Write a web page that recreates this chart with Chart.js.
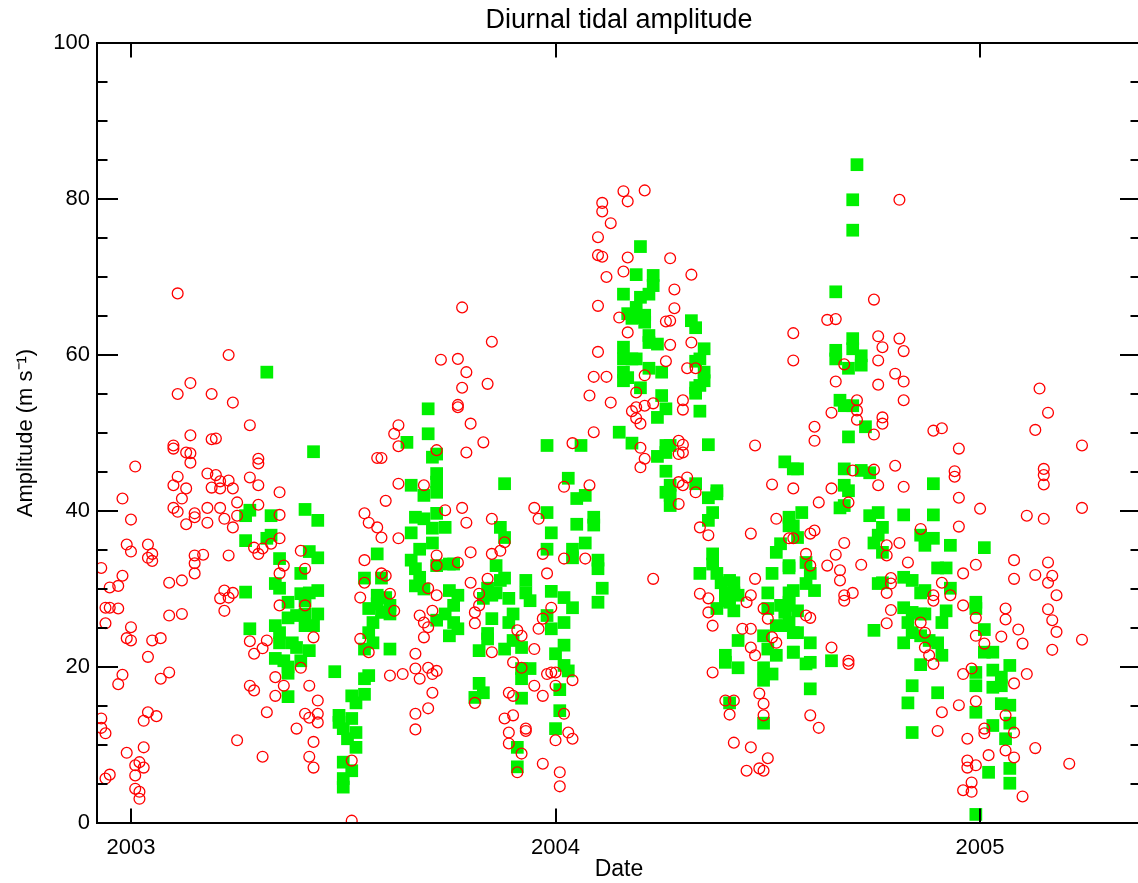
<!DOCTYPE html>
<html>
<head>
<meta charset="utf-8">
<title>Diurnal tidal amplitude</title>
<script src="https://cdn.jsdelivr.net/npm/chart.js@4.4.0/dist/chart.umd.min.js"></script>
<style>
html, body { margin: 0; padding: 0; background: #fff; overflow: hidden; }
#wrap { width: 1150px; height: 883px; }
</style>
</head>
<body>
<div id="wrap"><canvas id="tideChart" width="1150" height="883"></canvas></div>
<script>
// axis ranges (decimal years / m s-1)
var dateMin = 2002.92;
var dateMax = 2005.379;
var yearTicks = [2003, 2004, 2005];
var ampTicks = [0, 20, 40, 60, 80, 100];
var ampMinorStep = 5;

// red open circles: [decimal year, amplitude]
var circleEarly = [
  [2002.98,41.6],[2003.00,38.9],[2002.99,35.7],[2003.00,34.8],[2003.04,35.7],[2003.05,34.5],[2003.04,34.0],[2003.05,33.6],
  [2002.93,32.7],[2002.98,31.7],[2002.95,30.2],[2002.97,30.4],[2002.94,27.6],[2002.95,27.6],[2002.97,27.5],[2002.94,25.6],
  [2003.00,25.1],[2002.99,23.7],[2003.00,23.4],[2003.05,23.4],[2003.07,23.7],[2003.04,21.3],[2002.98,19.0],[2002.97,17.8],
  [2003.07,18.5],[2003.09,19.3],[2002.93,13.4],[2002.93,12.2],[2002.94,11.5],[2003.04,14.2],[2003.03,13.1],[2003.06,13.7],
  [2002.99,9.0],[2003.03,9.7],[2003.01,7.4],[2003.02,7.8],[2003.03,7.1],[2003.01,6.1],[2002.94,5.7],[2002.95,6.2],
  [2003.01,4.4],[2003.02,4.0],[2003.02,3.1]
];
var circleSpring03 = [
  [2003.11,67.9],[2003.23,60.0],[2003.14,56.4],[2003.11,55.0],[2003.19,55.0],[2003.24,53.9],[2003.28,51.0],[2003.14,49.7],
  [2003.19,49.2],[2003.20,49.3],[2003.10,48.4],[2003.10,48.0],[2003.13,47.5],[2003.14,47.4],[2003.14,46.2],[2003.01,45.7],
  [2003.30,46.7],[2003.30,46.1],[2003.11,44.4],[2003.18,44.8],[2003.20,44.6],[2003.21,43.8],[2003.23,43.9],[2003.28,44.3],
  [2003.10,43.3],[2003.13,42.9],[2003.19,43.0],[2003.21,42.9],[2003.24,42.9],[2003.30,43.3],[2003.35,42.4],
  [2003.12,41.6],[2003.10,40.4],[2003.11,39.9],[2003.15,39.7],[2003.15,39.2],[2003.18,38.5],[2003.18,40.4],[2003.21,40.4],
  [2003.22,39.0],[2003.24,37.9],[2003.25,41.1],[2003.13,38.3],[2003.30,40.8],[2003.35,39.5],[2003.25,39.4],[2003.17,34.4],
  [2003.23,34.3],[2003.15,34.3],[2003.15,33.3],[2003.15,32.0],[2003.09,30.8],[2003.12,31.1],[2003.22,29.8],[2003.24,29.5],
  [2003.21,28.8],[2003.23,28.9],[2003.22,27.2],[2003.09,26.6],[2003.12,26.8],[2003.29,35.3],[2003.31,35.2],[2003.33,35.8],
  [2003.35,36.5],[2003.30,34.5],[2003.40,34.9],[2003.41,32.6],[2003.35,32.0],[2003.36,33.0],[2003.35,27.9],[2003.41,27.9],
  [2003.28,23.3],[2003.32,23.4],[2003.29,21.7],[2003.31,22.4],[2003.43,23.8],[2003.40,19.9],[2003.34,18.7],[2003.28,17.6],
  [2003.29,17.0],[2003.34,16.3],[2003.36,17.6],[2003.42,17.6],[2003.44,15.7],[2003.32,14.2],[2003.41,14.0],[2003.42,13.5],
  [2003.44,14.0],[2003.44,12.9],[2003.39,12.1],[2003.25,10.6],[2003.43,10.4],[2003.31,8.5],[2003.42,8.5],[2003.43,7.1],
  [2003.52,0.3],[2003.52,8.0]
];
var circleAutumn03 = [
  [2003.63,51.0],[2003.62,49.9],[2003.63,48.3],[2003.58,46.8],[2003.59,46.8],[2003.63,43.5],[2003.69,43.3],[2003.73,59.4],
  [2003.72,47.8],[2003.55,39.7],[2003.56,38.5],[2003.58,37.9],[2003.59,36.6],[2003.63,36.5],[2003.60,41.3],[2003.55,33.7],
  [2003.59,32.0],[2003.60,31.7],[2003.55,30.8],[2003.54,28.9],[2003.61,29.4],[2003.62,27.2],[2003.54,23.6],[2003.56,21.9],
  [2003.61,18.9],[2003.64,19.1],[2003.71,27.2],[2003.68,26.6],[2003.69,25.7],[2003.70,25.1],[2003.69,23.8],[2003.67,21.7],
  [2003.67,19.8],[2003.70,19.9],[2003.72,19.5],[2003.68,18.5],[2003.71,19.1],[2003.71,16.7],[2003.67,14.0],[2003.70,14.7],
  [2003.67,12.0],[2003.72,34.3],[2003.72,33.0],[2003.70,30.1],[2003.72,29.2],
  [2003.78,66.1],[2003.85,61.7],[2003.77,59.5],[2003.79,57.8],[2003.78,55.8],[2003.84,56.3],[2003.77,53.6],[2003.77,53.3],
  [2003.80,51.2],[2003.83,48.8],[2003.79,47.5],[2003.78,40.4],[2003.79,38.5],[2003.74,40.1],[2003.85,39.0],[2003.80,34.7],
  [2003.85,34.5],[2003.87,34.9],[2003.77,33.4],[2003.80,30.8],[2003.82,29.4],[2003.81,27.0],[2003.82,27.9],[2003.81,25.6],
  [2003.84,31.3],[2003.85,21.9],[2003.91,24.7],[2003.92,24.0],[2003.90,20.6],[2003.92,19.9],[2003.95,22.3],[2003.96,39.0],
  [2003.95,40.4],[2003.88,36.0],[2003.97,34.5],[2003.98,32.0],[2003.99,27.6],[2003.96,24.9],[2003.97,26.2],[2003.99,19.3],
  [2003.98,19.1],[2004.00,19.3],[2004.04,18.3],[2003.95,17.6],[2003.97,16.3],[2004.00,17.6],[2003.89,16.7],[2003.90,16.3],
  [2003.81,15.4],[2003.88,13.4],[2003.90,13.8],[2003.89,11.6],[2003.93,11.8],[2003.93,12.1],[2003.89,10.2],[2003.92,8.9],
  [2003.91,6.5],[2003.97,7.6],[2004.01,6.5],[2004.01,4.7],[2004.00,10.6],[2004.03,11.6],[2004.04,10.8],[2004.02,14.0],
  [2004.07,33.9],[2004.02,33.9]
];
var circleYear04 = [
  [2004.16,81.0],[2004.21,81.1],[2004.17,79.7],[2004.11,79.5],[2004.11,78.4],[2004.13,76.9],[2004.10,75.1],[2004.10,72.8],
  [2004.11,72.6],[2004.17,72.5],[2004.27,72.4],[2004.12,70.0],[2004.16,70.7],[2004.32,70.3],[2004.10,66.3],[2004.28,68.4],
  [2004.28,66.0],[2004.15,64.8],[2004.17,62.9],[2004.26,64.3],[2004.27,64.4],[2004.10,60.4],[2004.27,61.3],[2004.32,61.6],
  [2004.56,62.8],[2004.56,59.3],[2004.26,59.2],[2004.09,57.2],[2004.12,57.2],[2004.31,58.3],[2004.33,58.3],[2004.21,57.4],
  [2004.08,54.8],[2004.13,53.9],[2004.19,55.2],[2004.30,54.2],[2004.18,52.8],[2004.19,53.3],[2004.21,53.5],[2004.23,53.8],
  [2004.19,51.9],[2004.20,51.2],[2004.30,53.0],[2004.09,50.1],[2004.04,48.7],[2004.20,48.1],[2004.21,46.7],[2004.20,45.6],
  [2004.29,49.0],[2004.30,48.5],[2004.29,47.3],[2004.30,47.5],[2004.47,48.4],[2004.31,44.3],[2004.29,43.7],[2004.51,43.4],
  [2004.08,43.3],[2004.02,43.1],
  [2004.23,31.3],[2004.30,43.3],[2004.33,42.4],[2004.29,40.9],[2004.34,37.9],[2004.36,36.9],[2004.34,29.4],[2004.36,28.8],
  [2004.36,27.0],[2004.37,25.3],[2004.37,19.3],[2004.40,15.7],[2004.42,15.7],[2004.41,13.9],[2004.42,10.3],[2004.46,9.7],
  [2004.45,6.7],[2004.48,7.0],[2004.50,8.3],[2004.49,6.7],[2004.46,37.1],[2004.52,39.0],[2004.55,36.5],[2004.47,31.3],
  [2004.46,29.2],[2004.45,28.3],[2004.44,24.9],[2004.46,24.9],[2004.46,22.5],[2004.47,21.5],[2004.49,27.5],[2004.50,26.2],
  [2004.51,23.8],[2004.52,23.1],[2004.48,16.6],[2004.49,15.3],[2004.49,13.8]
];
var circleLate04 = [
  [2004.81,79.9],[2004.75,67.1],[2004.64,64.5],[2004.66,64.6],[2004.76,62.4],[2004.81,62.1],[2004.77,61.0],[2004.82,60.5],
  [2004.76,59.3],[2004.68,58.8],[2004.66,56.6],[2004.76,56.2],[2004.80,57.6],[2004.82,56.6],[2004.82,54.2],[2004.71,54.2],
  [2004.65,52.6],[2004.71,52.9],[2004.71,51.7],[2004.77,52.0],[2004.77,51.2],[2004.61,50.8],[2004.61,49.0],[2004.75,49.8],
  [2004.89,50.3],[2004.91,50.6],[2004.95,48.0],[2005.14,55.7],[2005.16,52.6],[2005.13,50.4],[2005.24,48.4],[2004.70,45.2],
  [2004.75,45.3],[2004.80,45.8],[2004.94,45.1],[2004.94,44.4],[2005.15,45.4],[2005.15,44.6],[2005.15,43.4],[2004.65,42.9],
  [2004.76,43.3],[2004.82,43.1],[2004.56,42.9],
  [2004.62,41.1],[2004.69,41.1],[2004.95,41.7],[2005.00,40.3],[2004.95,38.0],[2004.86,37.7],[2005.11,39.4],[2005.15,39.0],
  [2005.24,40.4],[2004.60,37.1],[2004.61,37.5],[2004.56,36.5],[2004.68,35.9],[2004.78,35.6],[2004.81,35.9],[2004.78,34.3],
  [2004.83,33.4],[2004.72,33.1],[2004.66,34.4],[2004.64,33.0],[2004.59,34.5],[2004.60,33.0],[2004.67,32.4],[2004.67,31.1],
  [2004.68,29.2],[2004.68,28.5],[2004.70,29.5],[2004.79,31.4],[2004.79,30.7],[2004.78,29.5],[2004.91,30.8],[2004.93,29.2],
  [2004.96,32.0],[2004.99,33.1],[2004.89,29.2],[2004.89,28.5],[2004.96,27.9],[2004.99,26.3],[2005.08,33.7],[2005.08,31.3],
  [2005.13,31.8],[2005.16,33.4],[2005.17,31.7],[2005.16,30.8],[2005.18,29.2],[2004.79,27.3],[2004.78,25.6],[2004.59,26.6],
  [2004.60,26.3],[2004.86,25.7],[2004.87,24.4],[2004.87,22.5],[2004.88,21.5],[2004.89,20.4],[2004.65,22.5],[2004.69,20.8],
  [2004.69,20.4],[2004.99,24.0],[2005.01,23.0],[2005.05,23.9],[2005.06,27.5],[2005.06,26.1],[2005.09,24.8],[2005.10,23.0],
  [2005.16,27.4],[2005.17,26.0],[2005.18,24.5],[2005.17,22.2],[2005.24,23.5],[2004.96,19.1],[2004.98,19.8],[2005.11,19.1],
  [2005.08,17.9],[2004.95,15.1],[2004.99,15.6],[2004.91,14.2],[2004.90,11.8],[2004.97,10.8],[2005.01,12.1],[2005.01,11.5],
  [2005.06,13.8],[2005.08,11.6],[2005.08,8.4],[2005.06,9.3],[2005.02,8.7],[2005.13,9.6],[2005.10,3.4],[2005.21,7.6],
  [2004.97,8.0],[2004.97,7.1],[2004.99,7.4],[2004.98,5.2],[2004.96,4.2],[2004.98,4.0],[2004.60,13.8],[2004.62,12.2]
];

// green filled squares: [decimal year, amplitude]
var squareYear03 = [
  [2003.32,57.8],[2003.43,47.6],[2003.28,40.1],[2003.27,39.4],[2003.33,39.4],[2003.41,40.2],[2003.44,38.8],[2003.27,36.2],
  [2003.32,36.5],[2003.33,36.9],[2003.35,33.9],[2003.42,34.8],[2003.44,34.0],[2003.40,32.0],[2003.27,29.6],[2003.34,30.7],
  [2003.35,30.1],[2003.37,28.3],[2003.40,29.4],[2003.42,29.5],[2003.44,29.8],[2003.41,28.5],[2003.37,26.3],[2003.39,26.6],
  [2003.41,26.8],[2003.44,26.8],[2003.41,25.3],[2003.43,25.3],[2003.28,24.9],[2003.34,25.3],[2003.35,24.4],[2003.35,23.1],
  [2003.38,23.1],[2003.39,22.5],[2003.42,22.1],[2003.34,21.1],[2003.36,20.8],[2003.37,20.0],[2003.40,20.8],[2003.37,19.2],
  [2003.37,16.2],
  [2003.48,19.4],[2003.56,18.9],[2003.55,18.5],[2003.55,16.5],[2003.52,16.3],[2003.53,15.4],[2003.49,13.8],[2003.49,12.9],
  [2003.50,12.1],[2003.52,13.4],[2003.51,10.8],[2003.53,11.6],[2003.53,9.7],[2003.50,7.8],[2003.52,6.7],[2003.50,5.7],
  [2003.50,4.6],[2003.58,34.5],[2003.55,31.4],[2003.59,31.4],[2003.58,29.2],[2003.60,28.9],[2003.58,28.1],[2003.61,27.9],
  [2003.56,27.5],[2003.59,27.0],[2003.61,26.8],[2003.57,25.7],[2003.56,24.4],[2003.57,23.1],[2003.55,22.3],[2003.61,22.3],
  [2003.70,53.1],[2003.70,49.9],[2003.65,48.8],[2003.71,46.9],[2003.72,47.3],[2003.72,44.8],[2003.72,43.7],[2003.66,43.3],
  [2003.67,39.2],[2003.69,39.0],[2003.72,39.7],[2003.71,37.8],[2003.71,35.9],[2003.66,37.2],[2003.72,42.4],[2003.69,42.0],
  [2003.68,35.1],[2003.66,33.7],[2003.67,32.6],[2003.68,31.5],[2003.67,30.4],[2003.69,30.0]
];
var squareWinter03 = [
  [2003.87,37.9],[2003.88,36.6],[2003.74,37.9],[2003.86,33.0],[2003.75,33.2],[2003.72,33.0],[2003.76,33.2],[2003.87,31.1],
  [2003.88,31.4],[2003.84,30.1],[2003.85,29.2],[2003.86,29.5],[2003.89,28.8],[2003.83,28.8],[2003.75,29.8],[2003.77,29.2],
  [2003.76,27.9],[2003.74,26.8],[2003.76,25.7],[2003.72,26.0],[2003.77,24.9],[2003.75,24.0],[2003.93,31.1],[2003.93,29.5],
  [2003.94,28.5],[2003.99,29.7],[2004.02,28.9],[2004.04,27.6],[2004.11,30.1],[2004.10,28.3],[2003.90,26.8],[2003.89,25.7],
  [2003.85,26.2],[2003.84,24.3],[2003.84,23.6],[2003.98,26.6],[2003.99,24.9],[2004.02,25.7],[2003.90,23.4],[2003.92,22.5],
  [2003.88,22.3],[2003.82,22.1],[2004.02,22.8],[2004.00,21.7],[2004.02,20.2],[2004.03,19.5],[2003.92,19.8],[2003.94,19.8],
  [2003.92,18.5],[2003.82,17.9],[2003.83,16.7],[2003.81,16.1],[2003.92,16.0],[2004.01,17.1],[2004.01,14.4],[2004.00,12.1],
  [2003.91,9.7],[2003.91,7.2],[2003.98,39.8],[2003.99,37.2],[2003.98,35.1],[2004.05,38.3],[2004.05,41.6],[2004.07,42.0],
  [2004.09,39.2],[2004.09,38.2],[2004.04,35.1],[2004.07,35.9],[2004.04,34.0],[2004.10,33.7],[2004.10,32.6],[2003.98,48.4],
  [2004.06,48.4],[2004.03,44.2],[2003.88,43.5]
];
var squareYear04 = [
  [2004.20,73.9],[2004.19,70.3],[2004.23,70.2],[2004.23,68.9],[2004.16,67.8],[2004.20,67.4],[2004.22,67.8],[2004.17,65.3],
  [2004.19,66.1],[2004.19,64.8],[2004.21,65.1],[2004.21,64.2],[2004.18,64.7],[2004.32,64.4],[2004.33,63.5],[2004.22,62.5],
  [2004.22,61.6],[2004.24,61.4],[2004.35,60.8],[2004.34,59.5],[2004.33,59.2],[2004.16,61.0],[2004.16,59.5],[2004.18,59.5],
  [2004.19,59.5],[2004.35,57.8],[2004.35,56.7],[2004.16,57.8],[2004.16,56.7],[2004.17,57.1],[2004.22,58.3],[2004.25,57.8],
  [2004.20,55.8],[2004.33,55.8],[2004.34,56.1],[2004.33,55.1],[2004.25,54.8],[2004.26,53.1],[2004.24,52.0],[2004.34,52.8],
  [2004.15,50.1],[2004.18,48.7],[2004.26,48.4],[2004.27,48.4],[2004.24,47.0],[2004.26,47.5],[2004.36,48.5],[2004.26,45.1],
  [2004.27,43.3],[2004.33,43.5],[2004.54,46.3],[2004.56,45.4],[2004.38,42.6],
  [2004.27,42.0],[2004.27,40.7],[2004.26,42.4],[2004.36,41.7],[2004.38,42.2],[2004.37,39.8],[2004.36,38.8],[2004.37,34.5],
  [2004.37,33.2],[2004.34,32.0],[2004.38,32.0],[2004.39,30.8],[2004.41,31.1],[2004.42,30.8],[2004.40,29.5],[2004.42,29.5],
  [2004.43,29.2],[2004.40,28.5],[2004.41,28.3],[2004.38,27.5],[2004.42,27.2],[2004.43,23.4],[2004.40,21.5],[2004.40,20.6],
  [2004.43,19.9],[2004.41,15.4],[2004.49,12.8],[2004.50,29.5],[2004.50,27.5],[2004.53,27.9],[2004.54,27.0],[2004.55,28.3],
  [2004.52,25.3],[2004.54,25.3],[2004.49,24.0],[2004.50,22.3],[2004.52,21.5],[2004.49,19.9],[2004.51,19.1],[2004.49,18.3],
  [2004.52,34.7],[2004.53,35.8],[2004.51,32.0],[2004.55,33.0],[2004.55,29.5],[2004.55,38.1],[2004.56,24.4],[2004.56,21.9]
];
var squareLate04 = [
  [2004.71,84.4],[2004.70,79.9],[2004.70,76.0],[2004.66,68.1],[2004.70,62.1],[2004.66,60.6],[2004.66,59.5],[2004.70,60.8],
  [2004.72,59.9],[2004.72,58.7],[2004.69,58.3],[2004.67,54.2],[2004.68,53.5],[2004.70,53.5],[2004.73,50.8],[2004.69,49.5],
  [2004.57,45.4],[2004.68,45.4],[2004.72,45.2],[2004.74,44.9],[2004.68,43.3],[2004.89,43.5],
  [2004.69,42.6],[2004.67,40.4],[2004.68,40.7],[2004.58,39.8],[2004.56,38.1],[2004.57,36.6],[2004.55,39.2],[2004.74,39.4],
  [2004.76,39.8],[2004.77,37.9],[2004.76,36.9],[2004.75,35.9],[2004.77,34.7],[2004.82,39.5],[2004.89,39.5],[2004.86,36.9],
  [2004.87,35.6],[2004.89,36.5],[2004.93,35.6],[2005.01,35.3],[2004.59,33.4],[2004.55,32.7],[2004.60,32.0],[2004.59,30.7],
  [2004.61,29.8],[2004.56,29.8],[2004.76,30.7],[2004.77,30.8],[2004.82,31.5],[2004.84,31.1],[2004.86,29.5],[2004.87,29.8],
  [2004.90,32.7],[2004.92,32.7],[2004.93,30.1],[2004.55,27.9],[2004.57,27.2],[2004.55,25.7],[2004.82,27.6],[2004.84,27.0],
  [2004.86,26.8],[2004.87,26.8],[2004.83,25.7],[2004.84,24.4],[2004.86,24.0],[2004.88,23.4],[2004.90,23.1],[2004.92,27.2],
  [2004.91,25.7],[2004.91,21.5],[2004.86,20.3],[2004.82,23.1],[2004.75,24.7],[2004.57,24.4],[2004.60,23.1],[2004.56,21.9],
  [2004.59,20.4],[2004.60,20.6],[2004.65,20.8],[2004.60,17.2],[2004.84,17.6],[2004.83,15.4],[2004.84,11.6],[2004.90,16.7],
  [2004.99,28.3],[2004.99,27.5],[2005.01,24.8],[2005.01,21.9],[2005.03,21.9],[2005.07,20.2],[2004.99,19.3],[2005.03,19.6],
  [2005.05,18.7],[2004.99,17.6],[2005.03,17.4],[2005.05,17.6],[2005.05,15.3],[2005.07,15.1],[2004.99,14.2],[2005.03,12.5],
  [2005.07,12.8],[2005.06,10.8],[2005.02,6.5],[2005.07,7.0],[2005.07,5.1],[2004.99,1.1]
];

var FONT = '"Liberation Sans", Arial, Helvetica, sans-serif';

function toXY(list) {
	return list.map(function(p) { return {x: p[0], y: p[1]}; });
}

var circlePoints = toXY([].concat(circleEarly, circleSpring03, circleAutumn03, circleYear04, circleLate04));
var squarePoints = toXY([].concat(squareYear03, squareWinter03, squareYear04, squareLate04));

// IDL style box with inward ticks on all four sides
var frameTicks = {
	id: 'frameTicks',
	afterDatasetsDraw: function(chart) {
		var ctx = chart.ctx;
		var a = chart.chartArea;
		var xs = chart.scales.x;
		var ys = chart.scales.y;
		ctx.save();
		ctx.strokeStyle = '#000';
		ctx.lineWidth = 2;
		ctx.strokeRect(a.left, a.top, a.right - a.left, a.bottom - a.top);
		ctx.beginPath();
		for (var v = ampTicks[0]; v <= ampTicks[ampTicks.length - 1]; v += ampMinorStep) {
			var py = Math.round(ys.getPixelForValue(v));
			var len = (ampTicks.indexOf(v) >= 0) ? 21 : 10.5;
			ctx.moveTo(a.left, py); ctx.lineTo(a.left + len, py);
			ctx.moveTo(a.right, py); ctx.lineTo(a.right - len, py);
		}
		yearTicks.forEach(function(yr) {
			var px = Math.round(xs.getPixelForValue(yr));
			ctx.moveTo(px, a.bottom); ctx.lineTo(px, a.bottom - 14.5);
			ctx.moveTo(px, a.top); ctx.lineTo(px, a.top + 14.5);
		});
		ctx.stroke();
		ctx.restore();
	}
};

var ctx = document.getElementById('tideChart');

var tideChart = new Chart(ctx, {
	type: 'scatter',
	data: {
		datasets: [{
			label: 'circles',
			data: circlePoints,
			pointStyle: 'circle',
			pointRadius: 5.4,
			pointBorderWidth: 1.3,
			pointBorderColor: '#ff0000',
			pointBackgroundColor: 'rgba(0,0,0,0)'
		}, {
			label: 'squares',
			data: squarePoints,
			pointStyle: 'rect',
			pointRadius: 9,
			pointBorderWidth: 0,
			pointBorderColor: '#00f000',
			pointBackgroundColor: '#00f000'
		}]
	},
	options: {
		responsive: false,
		animation: false,
		events: [],
		layout: { padding: { left: 0, right: 3, top: 0, bottom: 0 } },
		plugins: {
			legend: { display: false },
			tooltip: { enabled: false },
			title: {
				display: true,
				fullSize: false,
				text: 'Diurnal tidal amplitude',
				color: '#000',
				font: { family: FONT, size: 27, weight: 'normal' },
				padding: { top: 4, bottom: 6.6 }
			}
		},
		scales: {
			x: {
				type: 'linear',
				min: dateMin,
				max: dateMax,
				afterBuildTicks: function(s) { s.ticks = yearTicks.map(function(v) { return {value: v}; }); },
				afterFit: function(s) { s.height = 60; },
				grid: { display: false, drawTicks: false },
				border: { display: false },
				ticks: {
					color: '#000',
					font: { family: FONT, size: 22 },
					padding: 12,
					maxRotation: 0,
					autoSkip: false,
					callback: function(v) { return String(v); }
				},
				title: {
					display: true,
					text: 'Date',
					color: '#000',
					font: { family: FONT, size: 23 },
					padding: { top: 0, bottom: 0 }
				}
			},
			y: {
				min: 0,
				max: 100,
				afterBuildTicks: function(s) { s.ticks = ampTicks.map(function(v) { return {value: v}; }); },
				afterFit: function(s) { s.width = 97; },
				grid: { display: false, drawTicks: false },
				border: { display: false },
				ticks: {
					color: '#000',
					font: { family: FONT, size: 22 },
					padding: 7,
					callback: function(v) { return String(v); }
				},
				title: {
					display: true,
					text: 'Amplitude (m s\u207B\u00B9)',
					color: '#000',
					font: { family: FONT, size: 22 },
					padding: { top: 13, bottom: 0 }
				}
			}
		}
	},
	plugins: [frameTicks]
});
</script>
</body>
</html>
